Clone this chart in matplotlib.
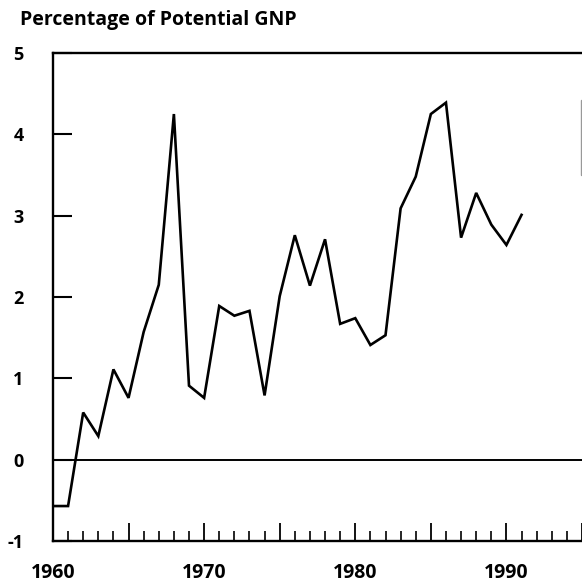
import numpy as np
import matplotlib
matplotlib.use("Agg")
import matplotlib.pyplot as plt
from matplotlib.patches import Rectangle

years = list(range(1960, 1992))
values = [-0.57, -0.57, 0.58, 0.29, 1.11, 0.76, 1.57, 2.15, 4.25, 0.91,
          0.76, 1.89, 1.77, 1.83, 0.79, 2.01, 2.76, 2.14, 2.71, 1.67,
          1.74, 1.41, 1.53, 3.09, 3.48, 4.25, 4.39, 2.73, 3.28, 2.89,
          2.64, 3.01]
y_ticks = [-1, 0, 1, 2, 3, 4, 5]
x_major = [1960, 1970, 1980, 1990]

plt.rcParams['font.family'] = ['Open Sans', 'DejaVu Sans']

fig = plt.figure(figsize=(5.82, 5.84), dpi=100)
ax = fig.add_axes([0.091, 0.0736, 0.909, 0.8356])

ax.plot(years, values, color='black', lw=1.9, solid_joinstyle='miter')
ax.axhline(0, color='black', lw=1.4)

ax.set_xlim(1960, 1995)
ax.set_ylim(-1, 5)

ax.set_yticks(y_ticks)
ax.set_yticklabels([str(v) for v in y_ticks], fontweight='bold', fontsize=13)
ax.tick_params(axis='y', direction='in', length=14, width=1.5, pad=21)

ax.set_xticks(list(range(1960, 1996, 5)))
ax.set_xticklabels([str(y) if y in x_major else '' for y in range(1960, 1996, 5)],
                   fontweight='bold', fontsize=14)
ax.set_xticks(list(range(1960, 1996)), minor=True)
ax.tick_params(axis='x', which='major', direction='in', length=13, width=1.3, pad=16)
ax.tick_params(axis='x', which='minor', direction='in', length=7, width=1.2)

for side in ['left', 'bottom', 'top']:
    ax.spines[side].set_linewidth(1.7)
ax.spines['right'].set_visible(False)

fig.text(0.034, 0.966, 'Percentage of Potential GNP', fontsize=14, fontweight='bold',
         ha='left', va='center')

# edge of a box cut off at the right border
fig.add_artist(Rectangle((581 / 582, 1 - 175 / 584), 0.05, 75 / 584, fill=False,
                         edgecolor='#999999', lw=1, transform=fig.transFigure))

fig.savefig('out.png', dpi=100)
